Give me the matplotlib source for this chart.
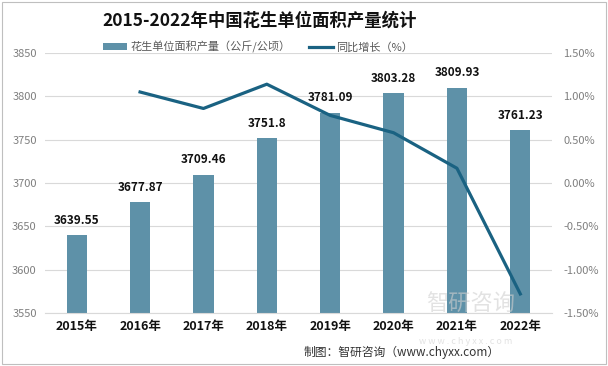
import matplotlib.pyplot as plt
from matplotlib.patches import Rectangle
from matplotlib.ticker import FuncFormatter

plt.rcParams['font.family'] = ['Noto Sans CJK SC', 'DejaVu Sans']

years = ['2015年', '2016年', '2017年', '2018年', '2019年', '2020年', '2021年', '2022年']
yield_vals = [3639.55, 3677.87, 3709.46, 3751.8, 3781.09, 3803.28, 3809.93, 3761.23]
yield_labels = ['3639.55', '3677.87', '3709.46', '3751.8', '3781.09', '3803.28', '3809.93', '3761.23']
growth_years = years[1:]
growth = [1.05, 0.86, 1.14, 0.78, 0.58, 0.17, -1.28]

bar_color = '#5e91a8'
line_color = '#1a6282'

fig = plt.figure(figsize=(6.08, 3.66), dpi=100)
ax = fig.add_axes([45 / 608, 1 - 313 / 366, 507 / 608, 260 / 366])
ax2 = ax.twinx()

# watermark (drawn first so it sits behind everything)
fig.text(515 / 608, 1 - 304 / 366, '智研咨询', ha='right', va='center', fontsize=16,
         color='#d0d0d0', alpha=0.6, zorder=0)
fig.text(512 / 608, 1 - 341 / 366, 'w w w . c h y x x . c o m', ha='right', va='center', fontsize=6.5,
         color='#d0d0d0', alpha=0.6, zorder=0)

x = list(range(len(years)))
ax.bar(x, [v - 3550 for v in yield_vals], bottom=3550, width=0.32, color=bar_color, zorder=2,
       label='花生单位面积产量（公斤/公顷）')
for i, v in enumerate(yield_vals):
    ax.annotate(yield_labels[i], (i, v), xytext=(0, 6), textcoords='offset points',
                ha='center', va='bottom', fontsize=8.5, fontweight='bold', color='#111111')

ax.set_xlim(-0.5, len(years) - 0.5)
ax.set_ylim(3550, 3850)
ax.set_yticks(range(3550, 3851, 50))
ax.grid(axis='y', color='#d9d9d9', linewidth=0.8, zorder=0)
ax.set_xticks(x)
ax.set_xticklabels(years, fontsize=9, fontweight='bold', color='#111111')
ax.tick_params(axis='y', colors='#7f7f7f', labelsize=8, length=0, pad=6)
ax.tick_params(axis='x', length=0, pad=5)
for s in ax.spines.values():
    s.set_visible(False)
ax.spines['bottom'].set_visible(True)
ax.spines['bottom'].set_color('#d9d9d9')

gx = [years.index(y) for y in growth_years]
ax2.plot(gx, growth, color=line_color, linewidth=2.3, zorder=3, label='同比增长（%）')
ax2.set_ylim(-1.5, 1.5)
ax2.set_yticks([-1.5, -1.0, -0.5, 0, 0.5, 1.0, 1.5])
ax2.yaxis.set_major_formatter(FuncFormatter(lambda v, p: f'{v:.2f}%'))
ax2.tick_params(axis='y', colors='#7f7f7f', labelsize=8, length=0, pad=8)
for s in ax2.spines.values():
    s.set_visible(False)

h1, l1 = ax.get_legend_handles_labels()
h2, l2 = ax2.get_legend_handles_labels()
fig.legend(h1 + h2, l1 + l2, loc='center', bbox_to_anchor=(258 / 608, 1 - 47 / 366), ncol=2,
           frameon=False, fontsize=8, handlelength=2.2, handleheight=0.6, handletextpad=0.3,
           columnspacing=1.6, labelcolor='#595959')

fig.text(260 / 608, 1 - 21 / 366, '2015-2022年中国花生单位面积产量统计', ha='center', va='center',
         fontsize=12.5, fontweight='bold', color='#111111')
fig.text(500 / 608, 1 - 352 / 366, '制图：智研咨询（www.chyxx.com）', ha='right', va='center',
         fontsize=8.5, color='#333333')

fig.patches.append(Rectangle((0.004, 0.006), 0.992, 0.988, transform=fig.transFigure,
                             fill=False, edgecolor='#bfbfbf', linewidth=0.8))

fig.savefig('out.png', dpi=100)
